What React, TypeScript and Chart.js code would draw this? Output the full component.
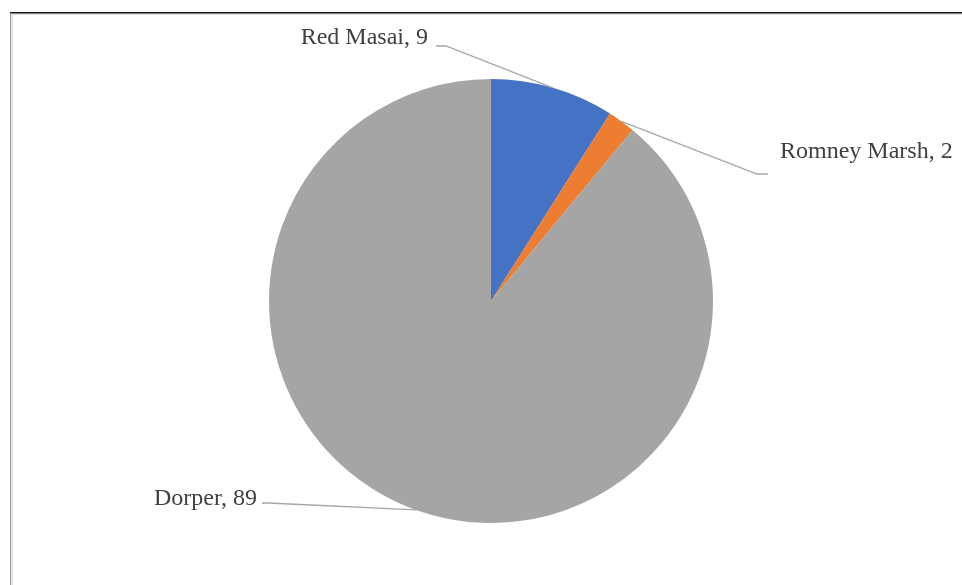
import React, { useEffect, useRef } from "react";
import { Chart, registerables } from "chart.js";

Chart.register(...registerables);

const categories = ["Red Masai", "Romney Marsh", "Dorper"];
const values = [9, 2, 89];
const colors = ["#4472C4", "#ED7D31", "#A5A5A5"];

// label layout: text anchor and leader-line elbow, relative to pie centre
const labelLayout = [
  { tx: 428 - 491, ty: 44 - 301, align: "right", ex: 446 - 491, ey: 46 - 301, hx: 436 - 491 },
  { tx: 780 - 491, ty: 158 - 301, align: "left", ex: 757 - 491, ey: 174 - 301, hx: 768 - 491 },
  { tx: 257 - 491, ty: 505 - 301, align: "right", ex: 268 - 491, ey: 503 - 301, hx: 262 - 491 },
];

const framePlugin = {
  id: "frame",
  beforeDraw(chart: any) {
    const ctx = chart.ctx;
    ctx.save();
    ctx.fillStyle = "#fff";
    ctx.fillRect(0, 0, chart.width, chart.height);
    ctx.strokeStyle = "#dcdcdc";
    ctx.lineWidth = 1;
    ctx.beginPath();
    ctx.moveTo(12, 14.5);
    ctx.lineTo(chart.width, 14.5);
    ctx.moveTo(12.5, 14);
    ctx.lineTo(12.5, chart.height);
    ctx.stroke();
    ctx.strokeStyle = "#111";
    ctx.lineWidth = 1.5;
    ctx.beginPath();
    ctx.moveTo(10, 12.75);
    ctx.lineTo(chart.width, 12.75);
    ctx.stroke();
    ctx.strokeStyle = "#9a9a9a";
    ctx.lineWidth = 1.2;
    ctx.beginPath();
    ctx.moveTo(10.6, 13);
    ctx.lineTo(10.6, chart.height);
    ctx.stroke();
    ctx.restore();
  },
};

const labelPlugin = {
  id: "pieLabels",
  afterDatasetsDraw(chart: any) {
    const ctx = chart.ctx;
    const meta = chart.getDatasetMeta(0);
    ctx.save();
    meta.data.forEach((arc: any, i: number) => {
      const { x, y, startAngle, endAngle, outerRadius } = arc.getProps(
        ["x", "y", "startAngle", "endAngle", "outerRadius"],
        true
      );
      const mid = (startAngle + endAngle) / 2;
      const ax = x + Math.cos(mid) * outerRadius;
      const ay = y + Math.sin(mid) * outerRadius;
      const L = labelLayout[i];
      ctx.strokeStyle = "#a6a6a6";
      ctx.lineWidth = 1.3;
      ctx.beginPath();
      ctx.moveTo(ax, ay);
      ctx.lineTo(x + L.ex, y + L.ey);
      ctx.lineTo(x + L.hx, y + L.ey);
      ctx.stroke();
      ctx.fillStyle = "#404040";
      ctx.font = '24px "Liberation Serif", "DejaVu Serif", serif';
      ctx.textAlign = L.align;
      ctx.textBaseline = "alphabetic";
      ctx.fillText(`${categories[i]}, ${values[i]}`, x + L.tx, y + L.ty);
    });
    ctx.restore();
  },
};

export default function App() {
  const ref = useRef<HTMLCanvasElement>(null);
  useEffect(() => {
    if (!ref.current) return;
    const chart = new Chart(ref.current, {
      type: "pie",
      data: {
        labels: categories,
        datasets: [
          {
            data: values,
            backgroundColor: colors,
            borderWidth: 0,
          },
        ],
      },
      options: {
        responsive: false,
        animation: false,
        layout: { padding: { top: 79, bottom: 62, left: 269, right: 249 } },
        plugins: {
          legend: { display: false },
          tooltip: { enabled: false },
        },
      },
      plugins: [framePlugin, labelPlugin],
    });
    return () => chart.destroy();
  }, []);
  return (
    <div style={{ position: "fixed", left: 0, top: 0, width: 962, height: 585, background: "#fff" }}>
      <canvas ref={ref} width={962} height={585} style={{ display: "block" }} />
    </div>
  );
}
